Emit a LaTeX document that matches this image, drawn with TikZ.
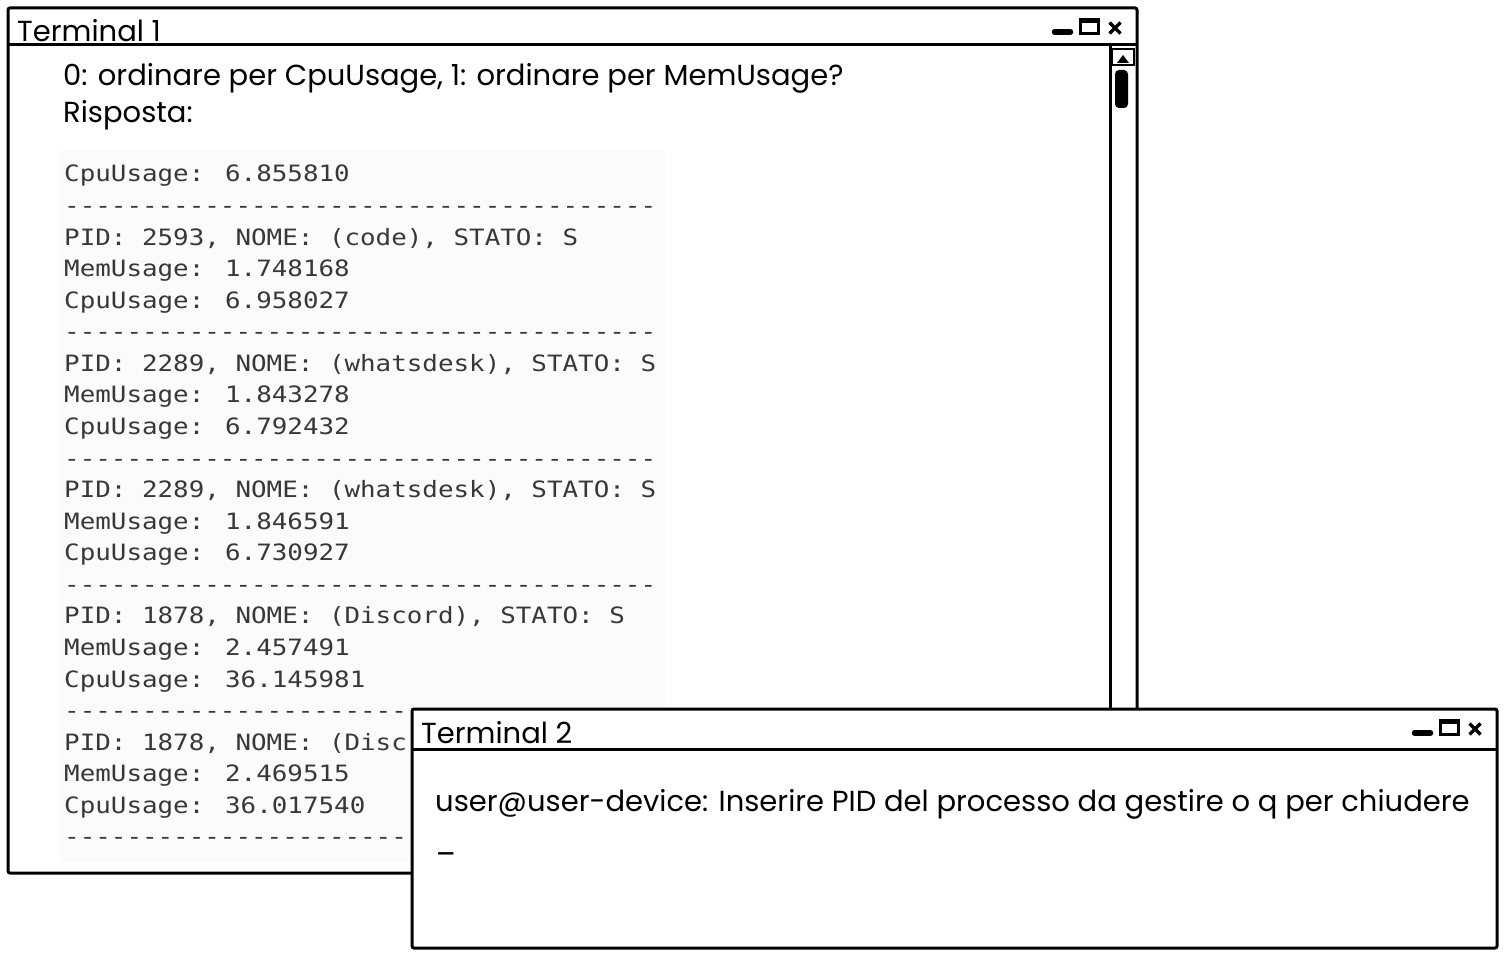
\documentclass[tikz,border=0pt]{standalone}
\usepackage{fontspec}
\setmainfont{Poppins}
\newfontfamily\termmono[FakeStretch=1.15]{DejaVu Sans Mono}
\usetikzlibrary{positioning}

\begin{document}
\begin{tikzpicture}[x=1pt,y=-1pt,
    win/.style={draw,line width=3pt,fill=white,rounded corners=2pt},
    sep/.style={line width=3pt},
    wintext/.style={anchor=base west,inner sep=0pt,font=\fontsize{29}{34}\selectfont},
    monoline/.style={anchor=base west,inner sep=0pt,text=black!78,font=\termmono\fontsize{22.5}{27}\selectfont}]
    \useasboundingbox (0,0) rectangle (1505,955);
    % Terminal 1
    \draw[win] (8,8) rectangle (1137,873);
    \draw[sep] (8,45) -- (1137,45);
    \node[wintext] (t1title) at (17,42) {Terminal 1};
    \node[wintext] (t1ask) at (63,86) {0: ordinare per CpuUsage, 1: ordinare per MemUsage?};
    \node[wintext,below=37pt of t1ask.base west,anchor=base west] (t1ans) {Risposta:};
    \fill[black!1.5] (60,150) rectangle (665,862);
    \foreach \txt [count=\i] in {
        {CpuUsage: 6.855810},
        {--------------------------------------},
        {PID: 2593, NOME: (code), STATO: S},
        {MemUsage: 1.748168},
        {CpuUsage: 6.958027},
        {--------------------------------------},
        {PID: 2289, NOME: (whatsdesk), STATO: S},
        {MemUsage: 1.843278},
        {CpuUsage: 6.792432},
        {--------------------------------------},
        {PID: 2289, NOME: (whatsdesk), STATO: S},
        {MemUsage: 1.846591},
        {CpuUsage: 6.730927},
        {--------------------------------------},
        {PID: 1878, NOME: (Discord), STATO: S},
        {MemUsage: 2.457491},
        {CpuUsage: 36.145981},
        {----------------------},
        {PID: 1878, NOME: (Disc},
        {MemUsage: 2.469515},
        {CpuUsage: 36.017540},
        {----------------------}}
        \node[monoline] (r\i) at (64,{182+(\i-1)*31.57}) {\txt};
    % scrollbar
    \draw[sep] (1110,45) -- (1110,873);
    \draw[line width=2pt] (1112,49) rectangle (1134,65);
    \fill (1117,63) -- (1129,63) -- (1123,55) -- cycle;
    \fill[rounded corners=4pt] (1115,70) rectangle (1128,108);
    % Terminal 2
    \draw[win] (412,709) rectangle (1497,948);
    \draw[sep] (412,749) -- (1497,749);
    \node[wintext] (t2title) at (421,743) {Terminal 2};
    \node[wintext] (t2cmd) at (435,811) {user@user-device: Inserire PID del processo da gestire o q per chiudere};
    \node[wintext,below=40pt of t2cmd.base west,anchor=base west] (t2cur) {\_};
    % window controls
    \foreach \cx/\cy in {1052/18,1412/719} {
        \begin{scope}[shift={(\cx,\cy)}]
            \draw[line width=5.5pt,line cap=round] (2.5,14) -- (18.5,14);
            \draw[line width=3pt] (28,1.5) rectangle (46,15.5);
            \draw[line width=5pt] (28,2.5) -- (46,2.5);
            \draw[line width=3.5pt] (57.5,4.5) -- (68.5,15.5) (57.5,15.5) -- (68.5,4.5);
        \end{scope}
    }
\end{tikzpicture}
\end{document}
